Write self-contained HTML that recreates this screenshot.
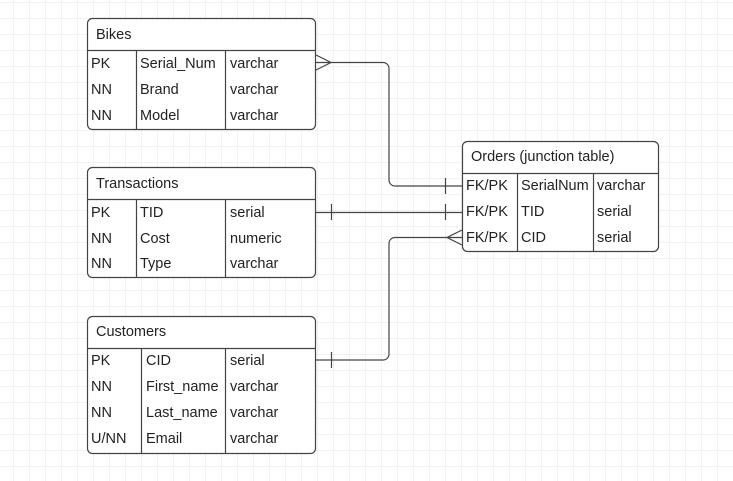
<!DOCTYPE html>
<html><head><style>body{margin:0;background:#fff}svg{display:block}text{font-family:"Liberation Sans",sans-serif;font-size:14.5px;fill:#222}</style></head><body>
<svg width="733" height="481" xmlns="http://www.w3.org/2000/svg">
<defs><pattern id="g" x="13" y="2" width="16" height="16" patternUnits="userSpaceOnUse"><path d="M16 0H0V16" fill="none" stroke="#e4e4e4" stroke-width="1"/></pattern></defs>
<rect width="733" height="481" fill="url(#g)"/>
<g fill="#fff" stroke="#444" stroke-width="1.2">
<rect x="87.5" y="18.5" width="228" height="111" rx="5"/>
<rect x="87.5" y="167.5" width="228" height="110" rx="5"/>
<rect x="87.5" y="316.5" width="228" height="137" rx="5"/>
<rect x="462.5" y="141.5" width="196" height="110" rx="5"/>
</g>
<g stroke="#444" stroke-width="1.2" fill="none">
<path d="M87.5 50.5H315.5M136.5 50.5V129.5M225.5 50.5V129.5"/>
<path d="M87.5 199.5H315.5M136.5 199.5V277.5M225.5 199.5V277.5"/>
<path d="M87.5 348.5H315.5M141.5 348.5V453.5M225.5 348.5V453.5"/>
<path d="M462.5 173.5H658.5M517.5 173.5V251.5M593.5 173.5V251.5"/>
<path d="M316 62.5H383a6 6 0 0 1 6 6V180a6 6 0 0 0 6 6H462"/>
<path d="M316 55L331 62.5L316 70"/>
<path d="M445.5 178V194"/>
<path d="M316 212.5H462M331.5 204V220M445.5 204V220"/>
<path d="M462 237.5H395a6 6 0 0 0 -6 6V354a6 6 0 0 1 -6 6H316M331.5 352V368"/>
<path d="M462 230L447 237.5L462 245"/>
</g>
<text x="96" y="39">Bikes</text>
<text x="91" y="68">PK</text><text x="140" y="68">Serial_Num</text><text x="230" y="68">varchar</text>
<text x="91" y="94">NN</text><text x="140" y="94">Brand</text><text x="230" y="94">varchar</text>
<text x="91" y="120">NN</text><text x="140" y="120">Model</text><text x="230" y="120">varchar</text>
<text x="96" y="188">Transactions</text>
<text x="91" y="217">PK</text><text x="140" y="217">TID</text><text x="230" y="217">serial</text>
<text x="91" y="243">NN</text><text x="140" y="243">Cost</text><text x="230" y="243">numeric</text>
<text x="91" y="268">NN</text><text x="140" y="268">Type</text><text x="230" y="268">varchar</text>
<text x="96" y="336">Customers</text>
<text x="91" y="365">PK</text><text x="146" y="365">CID</text><text x="230" y="365">serial</text>
<text x="91" y="391">NN</text><text x="146" y="391">First_name</text><text x="230" y="391">varchar</text>
<text x="91" y="417">NN</text><text x="146" y="417">Last_name</text><text x="230" y="417">varchar</text>
<text x="91" y="443">U/NN</text><text x="146" y="443">Email</text><text x="230" y="443">varchar</text>
<text x="471" y="161">Orders (junction table)</text>
<text x="466" y="190">FK/PK</text><text x="521" y="190">SerialNum</text><text x="597" y="190">varchar</text>
<text x="466" y="216">FK/PK</text><text x="521" y="216">TID</text><text x="597" y="216">serial</text>
<text x="466" y="242">FK/PK</text><text x="521" y="242">CID</text><text x="597" y="242">serial</text>
</svg>
</body></html>
